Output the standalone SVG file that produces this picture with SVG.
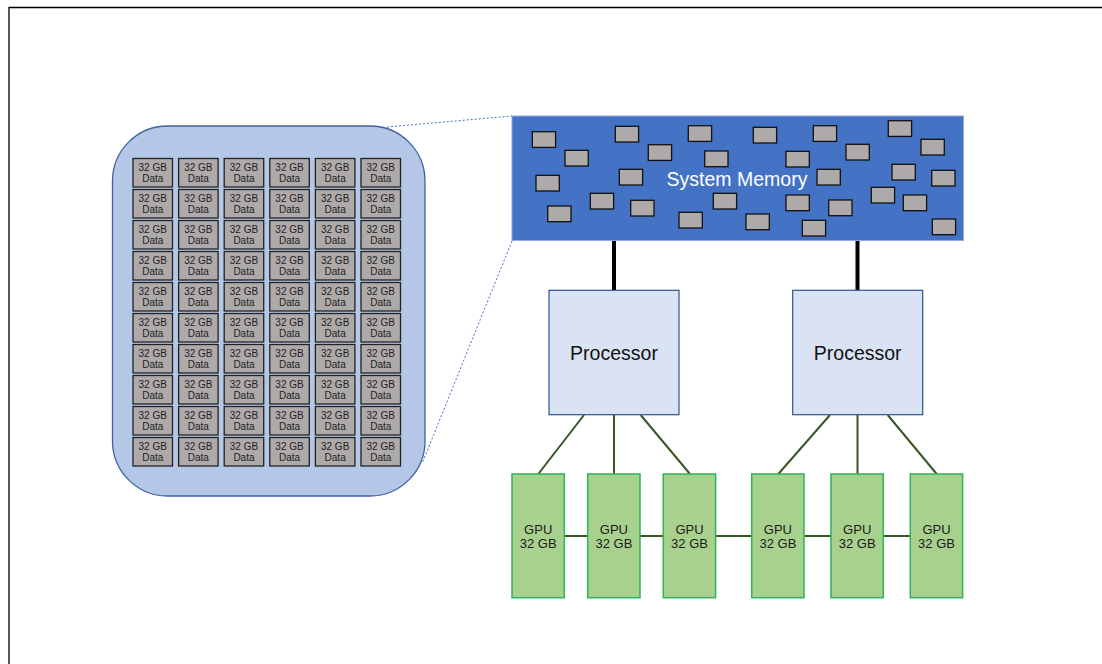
<svg xmlns="http://www.w3.org/2000/svg" width="1102" height="664" viewBox="0 0 1102 664">
<style>
.frame{fill:none;stroke:#000;stroke-width:1.3}
.c{fill:#AEAAAA;stroke:#222;stroke-width:1.3}
.ct{font-family:"Liberation Sans",Arial,sans-serif;font-size:10px;fill:#222;text-anchor:middle}
.chip{fill:#AEAAAA;stroke:#111;stroke-width:1.3}
.proc{fill:#DAE3F3;stroke:#2F528F;stroke-width:1.2}
.ptxt{font-family:"Liberation Sans",Arial,sans-serif;font-size:19.5px;fill:#111;text-anchor:middle}
.gpu{fill:#A9D18E;stroke:#2DB35A;stroke-width:1.5}
.gtxt{font-family:"Liberation Sans",Arial,sans-serif;font-size:13px;fill:#1a1a1a;text-anchor:middle}
.bus{stroke:#000;stroke-width:4;fill:none}
.link{stroke:#385723;stroke-width:2;fill:none}
.dash{stroke:#4472C4;stroke-width:1;stroke-dasharray:2 2;fill:none}
</style>
<rect width="1102" height="664" fill="#fff"/>
<path class="frame" d="M9,664 V7.5 H1102"/>

<g id="connectors">
<line class="dash" x1="387" y1="127" x2="512" y2="116"/>
<line class="dash" x1="512" y1="241" x2="422.7" y2="462"/>
<line class="bus" x1="614" y1="240" x2="614" y2="290"/>
<line class="bus" x1="857.5" y1="240" x2="857.5" y2="290"/>
<line class="link" x1="584" y1="415" x2="538.3" y2="474"/>
<line class="link" x1="614" y1="415" x2="614" y2="474"/>
<line class="link" x1="640.7" y1="415" x2="690" y2="474"/>
<line class="link" x1="830" y1="415" x2="778.3" y2="474"/>
<line class="link" x1="857.5" y1="415" x2="857.5" y2="474"/>
<line class="link" x1="887.7" y1="415" x2="936.7" y2="474"/>
<line class="link" x1="564.3" y1="536" x2="587.7" y2="536"/>
<line class="link" x1="640" y1="536" x2="663.3" y2="536"/>
<line class="link" x1="715.7" y1="536" x2="751.7" y2="536"/>
<line class="link" x1="804.3" y1="536" x2="831" y2="536"/>
<line class="link" x1="883.3" y1="536" x2="910.3" y2="536"/>
</g>

<g id="memory-detail">
<rect x="112.5" y="126" width="312.5" height="370" rx="55" ry="55" fill="#B4C7E7" stroke="#3F62A5" stroke-width="1.3"/>
<g id="cells">
<g transform="translate(133,158.5)"><rect class="c" width="39.5" height="28.5"/><text class="ct" x="19.75" y="12.5">32 GB</text><text class="ct" x="19.75" y="23.5">Data</text></g>
<g transform="translate(178.6,158.5)"><rect class="c" width="39.5" height="28.5"/><text class="ct" x="19.75" y="12.5">32 GB</text><text class="ct" x="19.75" y="23.5">Data</text></g>
<g transform="translate(224.2,158.5)"><rect class="c" width="39.5" height="28.5"/><text class="ct" x="19.75" y="12.5">32 GB</text><text class="ct" x="19.75" y="23.5">Data</text></g>
<g transform="translate(269.8,158.5)"><rect class="c" width="39.5" height="28.5"/><text class="ct" x="19.75" y="12.5">32 GB</text><text class="ct" x="19.75" y="23.5">Data</text></g>
<g transform="translate(315.4,158.5)"><rect class="c" width="39.5" height="28.5"/><text class="ct" x="19.75" y="12.5">32 GB</text><text class="ct" x="19.75" y="23.5">Data</text></g>
<g transform="translate(361,158.5)"><rect class="c" width="39.5" height="28.5"/><text class="ct" x="19.75" y="12.5">32 GB</text><text class="ct" x="19.75" y="23.5">Data</text></g>
<g transform="translate(133,189.5)"><rect class="c" width="39.5" height="28.5"/><text class="ct" x="19.75" y="12.5">32 GB</text><text class="ct" x="19.75" y="23.5">Data</text></g>
<g transform="translate(178.6,189.5)"><rect class="c" width="39.5" height="28.5"/><text class="ct" x="19.75" y="12.5">32 GB</text><text class="ct" x="19.75" y="23.5">Data</text></g>
<g transform="translate(224.2,189.5)"><rect class="c" width="39.5" height="28.5"/><text class="ct" x="19.75" y="12.5">32 GB</text><text class="ct" x="19.75" y="23.5">Data</text></g>
<g transform="translate(269.8,189.5)"><rect class="c" width="39.5" height="28.5"/><text class="ct" x="19.75" y="12.5">32 GB</text><text class="ct" x="19.75" y="23.5">Data</text></g>
<g transform="translate(315.4,189.5)"><rect class="c" width="39.5" height="28.5"/><text class="ct" x="19.75" y="12.5">32 GB</text><text class="ct" x="19.75" y="23.5">Data</text></g>
<g transform="translate(361,189.5)"><rect class="c" width="39.5" height="28.5"/><text class="ct" x="19.75" y="12.5">32 GB</text><text class="ct" x="19.75" y="23.5">Data</text></g>
<g transform="translate(133,220.5)"><rect class="c" width="39.5" height="28.5"/><text class="ct" x="19.75" y="12.5">32 GB</text><text class="ct" x="19.75" y="23.5">Data</text></g>
<g transform="translate(178.6,220.5)"><rect class="c" width="39.5" height="28.5"/><text class="ct" x="19.75" y="12.5">32 GB</text><text class="ct" x="19.75" y="23.5">Data</text></g>
<g transform="translate(224.2,220.5)"><rect class="c" width="39.5" height="28.5"/><text class="ct" x="19.75" y="12.5">32 GB</text><text class="ct" x="19.75" y="23.5">Data</text></g>
<g transform="translate(269.8,220.5)"><rect class="c" width="39.5" height="28.5"/><text class="ct" x="19.75" y="12.5">32 GB</text><text class="ct" x="19.75" y="23.5">Data</text></g>
<g transform="translate(315.4,220.5)"><rect class="c" width="39.5" height="28.5"/><text class="ct" x="19.75" y="12.5">32 GB</text><text class="ct" x="19.75" y="23.5">Data</text></g>
<g transform="translate(361,220.5)"><rect class="c" width="39.5" height="28.5"/><text class="ct" x="19.75" y="12.5">32 GB</text><text class="ct" x="19.75" y="23.5">Data</text></g>
<g transform="translate(133,251.5)"><rect class="c" width="39.5" height="28.5"/><text class="ct" x="19.75" y="12.5">32 GB</text><text class="ct" x="19.75" y="23.5">Data</text></g>
<g transform="translate(178.6,251.5)"><rect class="c" width="39.5" height="28.5"/><text class="ct" x="19.75" y="12.5">32 GB</text><text class="ct" x="19.75" y="23.5">Data</text></g>
<g transform="translate(224.2,251.5)"><rect class="c" width="39.5" height="28.5"/><text class="ct" x="19.75" y="12.5">32 GB</text><text class="ct" x="19.75" y="23.5">Data</text></g>
<g transform="translate(269.8,251.5)"><rect class="c" width="39.5" height="28.5"/><text class="ct" x="19.75" y="12.5">32 GB</text><text class="ct" x="19.75" y="23.5">Data</text></g>
<g transform="translate(315.4,251.5)"><rect class="c" width="39.5" height="28.5"/><text class="ct" x="19.75" y="12.5">32 GB</text><text class="ct" x="19.75" y="23.5">Data</text></g>
<g transform="translate(361,251.5)"><rect class="c" width="39.5" height="28.5"/><text class="ct" x="19.75" y="12.5">32 GB</text><text class="ct" x="19.75" y="23.5">Data</text></g>
<g transform="translate(133,282.5)"><rect class="c" width="39.5" height="28.5"/><text class="ct" x="19.75" y="12.5">32 GB</text><text class="ct" x="19.75" y="23.5">Data</text></g>
<g transform="translate(178.6,282.5)"><rect class="c" width="39.5" height="28.5"/><text class="ct" x="19.75" y="12.5">32 GB</text><text class="ct" x="19.75" y="23.5">Data</text></g>
<g transform="translate(224.2,282.5)"><rect class="c" width="39.5" height="28.5"/><text class="ct" x="19.75" y="12.5">32 GB</text><text class="ct" x="19.75" y="23.5">Data</text></g>
<g transform="translate(269.8,282.5)"><rect class="c" width="39.5" height="28.5"/><text class="ct" x="19.75" y="12.5">32 GB</text><text class="ct" x="19.75" y="23.5">Data</text></g>
<g transform="translate(315.4,282.5)"><rect class="c" width="39.5" height="28.5"/><text class="ct" x="19.75" y="12.5">32 GB</text><text class="ct" x="19.75" y="23.5">Data</text></g>
<g transform="translate(361,282.5)"><rect class="c" width="39.5" height="28.5"/><text class="ct" x="19.75" y="12.5">32 GB</text><text class="ct" x="19.75" y="23.5">Data</text></g>
<g transform="translate(133,313.5)"><rect class="c" width="39.5" height="28.5"/><text class="ct" x="19.75" y="12.5">32 GB</text><text class="ct" x="19.75" y="23.5">Data</text></g>
<g transform="translate(178.6,313.5)"><rect class="c" width="39.5" height="28.5"/><text class="ct" x="19.75" y="12.5">32 GB</text><text class="ct" x="19.75" y="23.5">Data</text></g>
<g transform="translate(224.2,313.5)"><rect class="c" width="39.5" height="28.5"/><text class="ct" x="19.75" y="12.5">32 GB</text><text class="ct" x="19.75" y="23.5">Data</text></g>
<g transform="translate(269.8,313.5)"><rect class="c" width="39.5" height="28.5"/><text class="ct" x="19.75" y="12.5">32 GB</text><text class="ct" x="19.75" y="23.5">Data</text></g>
<g transform="translate(315.4,313.5)"><rect class="c" width="39.5" height="28.5"/><text class="ct" x="19.75" y="12.5">32 GB</text><text class="ct" x="19.75" y="23.5">Data</text></g>
<g transform="translate(361,313.5)"><rect class="c" width="39.5" height="28.5"/><text class="ct" x="19.75" y="12.5">32 GB</text><text class="ct" x="19.75" y="23.5">Data</text></g>
<g transform="translate(133,344.5)"><rect class="c" width="39.5" height="28.5"/><text class="ct" x="19.75" y="12.5">32 GB</text><text class="ct" x="19.75" y="23.5">Data</text></g>
<g transform="translate(178.6,344.5)"><rect class="c" width="39.5" height="28.5"/><text class="ct" x="19.75" y="12.5">32 GB</text><text class="ct" x="19.75" y="23.5">Data</text></g>
<g transform="translate(224.2,344.5)"><rect class="c" width="39.5" height="28.5"/><text class="ct" x="19.75" y="12.5">32 GB</text><text class="ct" x="19.75" y="23.5">Data</text></g>
<g transform="translate(269.8,344.5)"><rect class="c" width="39.5" height="28.5"/><text class="ct" x="19.75" y="12.5">32 GB</text><text class="ct" x="19.75" y="23.5">Data</text></g>
<g transform="translate(315.4,344.5)"><rect class="c" width="39.5" height="28.5"/><text class="ct" x="19.75" y="12.5">32 GB</text><text class="ct" x="19.75" y="23.5">Data</text></g>
<g transform="translate(361,344.5)"><rect class="c" width="39.5" height="28.5"/><text class="ct" x="19.75" y="12.5">32 GB</text><text class="ct" x="19.75" y="23.5">Data</text></g>
<g transform="translate(133,375.5)"><rect class="c" width="39.5" height="28.5"/><text class="ct" x="19.75" y="12.5">32 GB</text><text class="ct" x="19.75" y="23.5">Data</text></g>
<g transform="translate(178.6,375.5)"><rect class="c" width="39.5" height="28.5"/><text class="ct" x="19.75" y="12.5">32 GB</text><text class="ct" x="19.75" y="23.5">Data</text></g>
<g transform="translate(224.2,375.5)"><rect class="c" width="39.5" height="28.5"/><text class="ct" x="19.75" y="12.5">32 GB</text><text class="ct" x="19.75" y="23.5">Data</text></g>
<g transform="translate(269.8,375.5)"><rect class="c" width="39.5" height="28.5"/><text class="ct" x="19.75" y="12.5">32 GB</text><text class="ct" x="19.75" y="23.5">Data</text></g>
<g transform="translate(315.4,375.5)"><rect class="c" width="39.5" height="28.5"/><text class="ct" x="19.75" y="12.5">32 GB</text><text class="ct" x="19.75" y="23.5">Data</text></g>
<g transform="translate(361,375.5)"><rect class="c" width="39.5" height="28.5"/><text class="ct" x="19.75" y="12.5">32 GB</text><text class="ct" x="19.75" y="23.5">Data</text></g>
<g transform="translate(133,406.5)"><rect class="c" width="39.5" height="28.5"/><text class="ct" x="19.75" y="12.5">32 GB</text><text class="ct" x="19.75" y="23.5">Data</text></g>
<g transform="translate(178.6,406.5)"><rect class="c" width="39.5" height="28.5"/><text class="ct" x="19.75" y="12.5">32 GB</text><text class="ct" x="19.75" y="23.5">Data</text></g>
<g transform="translate(224.2,406.5)"><rect class="c" width="39.5" height="28.5"/><text class="ct" x="19.75" y="12.5">32 GB</text><text class="ct" x="19.75" y="23.5">Data</text></g>
<g transform="translate(269.8,406.5)"><rect class="c" width="39.5" height="28.5"/><text class="ct" x="19.75" y="12.5">32 GB</text><text class="ct" x="19.75" y="23.5">Data</text></g>
<g transform="translate(315.4,406.5)"><rect class="c" width="39.5" height="28.5"/><text class="ct" x="19.75" y="12.5">32 GB</text><text class="ct" x="19.75" y="23.5">Data</text></g>
<g transform="translate(361,406.5)"><rect class="c" width="39.5" height="28.5"/><text class="ct" x="19.75" y="12.5">32 GB</text><text class="ct" x="19.75" y="23.5">Data</text></g>
<g transform="translate(133,437.5)"><rect class="c" width="39.5" height="28.5"/><text class="ct" x="19.75" y="12.5">32 GB</text><text class="ct" x="19.75" y="23.5">Data</text></g>
<g transform="translate(178.6,437.5)"><rect class="c" width="39.5" height="28.5"/><text class="ct" x="19.75" y="12.5">32 GB</text><text class="ct" x="19.75" y="23.5">Data</text></g>
<g transform="translate(224.2,437.5)"><rect class="c" width="39.5" height="28.5"/><text class="ct" x="19.75" y="12.5">32 GB</text><text class="ct" x="19.75" y="23.5">Data</text></g>
<g transform="translate(269.8,437.5)"><rect class="c" width="39.5" height="28.5"/><text class="ct" x="19.75" y="12.5">32 GB</text><text class="ct" x="19.75" y="23.5">Data</text></g>
<g transform="translate(315.4,437.5)"><rect class="c" width="39.5" height="28.5"/><text class="ct" x="19.75" y="12.5">32 GB</text><text class="ct" x="19.75" y="23.5">Data</text></g>
<g transform="translate(361,437.5)"><rect class="c" width="39.5" height="28.5"/><text class="ct" x="19.75" y="12.5">32 GB</text><text class="ct" x="19.75" y="23.5">Data</text></g>
</g>
</g>

<g id="system-memory">
<rect x="512" y="116" width="451.5" height="124.5" fill="#4472C4" stroke="#8EA9DB" stroke-width="1"/>
<g>
<rect class="chip" x="532.3" y="131.7" width="23.3" height="15.7"/>
<rect class="chip" x="565" y="150.3" width="23.3" height="15.7"/>
<rect class="chip" x="536" y="175.3" width="23.3" height="15.7"/>
<rect class="chip" x="547.7" y="206" width="23.3" height="15.7"/>
<rect class="chip" x="615.3" y="126.3" width="23.3" height="15.7"/>
<rect class="chip" x="648.3" y="144.7" width="23.3" height="15.7"/>
<rect class="chip" x="619.3" y="169.3" width="23.3" height="15.7"/>
<rect class="chip" x="590.3" y="193.3" width="23.3" height="15.7"/>
<rect class="chip" x="630.7" y="200.3" width="23.3" height="15.7"/>
<rect class="chip" x="688.3" y="125.7" width="23.3" height="15.7"/>
<rect class="chip" x="704.7" y="151" width="23.3" height="15.7"/>
<rect class="chip" x="713.3" y="193.3" width="23.3" height="15.7"/>
<rect class="chip" x="679" y="212.3" width="23.3" height="15.7"/>
<rect class="chip" x="753.3" y="127.3" width="23.3" height="15.7"/>
<rect class="chip" x="786" y="151.3" width="23.3" height="15.7"/>
<rect class="chip" x="746" y="214" width="23.3" height="15.7"/>
<rect class="chip" x="786" y="195" width="23.3" height="15.7"/>
<rect class="chip" x="813.3" y="125.7" width="23.3" height="15.7"/>
<rect class="chip" x="846" y="144.3" width="23.3" height="15.7"/>
<rect class="chip" x="817" y="169.3" width="23.3" height="15.7"/>
<rect class="chip" x="828.7" y="200" width="23.3" height="15.7"/>
<rect class="chip" x="802.3" y="220.3" width="23.3" height="15.7"/>
<rect class="chip" x="888.3" y="120.7" width="23.3" height="15.7"/>
<rect class="chip" x="921" y="139.3" width="23.3" height="15.7"/>
<rect class="chip" x="892" y="164.3" width="23.3" height="15.7"/>
<rect class="chip" x="931.7" y="170.3" width="23.3" height="15.7"/>
<rect class="chip" x="871.3" y="187.3" width="23.3" height="15.7"/>
<rect class="chip" x="903.3" y="195" width="23.3" height="15.7"/>
<rect class="chip" x="932.3" y="219" width="23.3" height="15.7"/>
</g>
<text x="737" y="186" font-family="'Liberation Sans',Arial,sans-serif" font-size="19.5" fill="#fff" text-anchor="middle">System Memory</text>
</g>

<g id="processor-1">
<rect class="proc" x="549" y="290.3" width="130" height="124.4"/>
<text class="ptxt" x="614" y="360">Processor</text>
</g>
<g id="processor-2">
<rect class="proc" x="792.7" y="290.3" width="130" height="124.4"/>
<text class="ptxt" x="857.7" y="360">Processor</text>
</g>

<g id="gpu-1"><rect class="gpu" x="512" y="474" width="52.3" height="123.7"/><text class="gtxt" x="538.2" y="533.5">GPU</text><text class="gtxt" x="538.2" y="548">32 GB</text></g>
<g id="gpu-2"><rect class="gpu" x="587.7" y="474" width="52.3" height="123.7"/><text class="gtxt" x="613.9" y="533.5">GPU</text><text class="gtxt" x="613.9" y="548">32 GB</text></g>
<g id="gpu-3"><rect class="gpu" x="663.3" y="474" width="52.3" height="123.7"/><text class="gtxt" x="689.5" y="533.5">GPU</text><text class="gtxt" x="689.5" y="548">32 GB</text></g>
<g id="gpu-4"><rect class="gpu" x="751.7" y="474" width="52.3" height="123.7"/><text class="gtxt" x="777.9" y="533.5">GPU</text><text class="gtxt" x="777.9" y="548">32 GB</text></g>
<g id="gpu-5"><rect class="gpu" x="831" y="474" width="52.3" height="123.7"/><text class="gtxt" x="857.2" y="533.5">GPU</text><text class="gtxt" x="857.2" y="548">32 GB</text></g>
<g id="gpu-6"><rect class="gpu" x="910.3" y="474" width="52.3" height="123.7"/><text class="gtxt" x="936.5" y="533.5">GPU</text><text class="gtxt" x="936.5" y="548">32 GB</text></g>
</svg>
